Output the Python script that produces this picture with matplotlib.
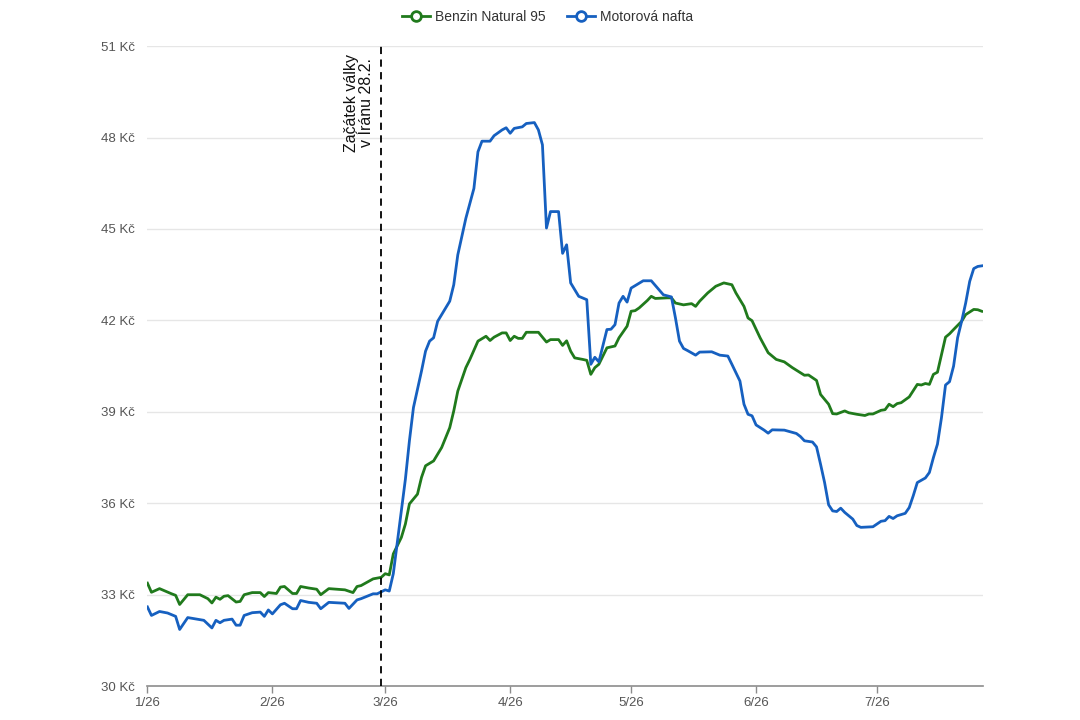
import matplotlib
matplotlib.use("Agg")
import matplotlib.pyplot as plt
import matplotlib.dates as mdates
from matplotlib.lines import Line2D
import pandas as pd

plt.rcParams['font.family'] = ['Liberation Sans', 'DejaVu Sans']

YEAR = "2026"

benzin_dates = [
    "01-01", "01-02", "01-04", "01-07", "01-08", "01-09", "01-11", "01-12", "01-14", "01-16",
    "01-17", "01-18", "01-19", "01-20", "01-21", "01-23", "01-24", "01-25", "01-27", "01-29",
    "01-30", "01-31", "02-02", "02-03", "02-04", "02-06", "02-07", "02-08", "02-10", "02-12",
    "02-13", "02-15", "02-19", "02-21", "02-22", "02-23", "02-26", "02-28", "03-01", "03-02",
    "03-03", "03-05", "03-06", "03-07", "03-09", "03-10", "03-11", "03-13", "03-15", "03-17",
    "03-18", "03-19", "03-21", "03-22", "03-24", "03-26", "03-27", "03-28", "03-30", "03-31",
    "04-01", "04-02", "04-03", "04-04", "04-05", "04-08", "04-10", "04-11", "04-13", "04-14",
    "04-15", "04-16", "04-17", "04-19", "04-20", "04-21", "04-22", "04-23", "04-25", "04-27",
    "04-28", "04-30", "05-01", "05-02", "05-03", "05-05", "05-06", "05-07", "05-10", "05-11",
    "05-12", "05-14", "05-16", "05-17", "05-18", "05-20", "05-22", "05-24", "05-26", "05-27",
    "05-29", "05-30", "05-31", "06-02", "06-04", "06-06", "06-08", "06-10", "06-13", "06-14",
    "06-16", "06-17", "06-19", "06-20", "06-21", "06-23", "06-24", "06-26", "06-28", "06-29",
    "06-30", "07-02", "07-03", "07-04", "07-05", "07-06", "07-07", "07-09", "07-11", "07-12",
    "07-13", "07-14", "07-15", "07-16", "07-18", "07-19", "07-20", "07-22", "07-23", "07-25",
    "07-26", "07-27",
]
benzin_values = [
    33.38, 33.08, 33.20, 33.03, 32.98, 32.68, 33.00, 33.00, 33.00, 32.87,
    32.73, 32.92, 32.85, 32.95, 32.97, 32.76, 32.78, 33.00, 33.07, 33.07,
    32.94, 33.07, 33.04, 33.25, 33.27, 33.04, 33.04, 33.27, 33.22, 33.18,
    33.00, 33.20, 33.16, 33.07, 33.27, 33.30, 33.52, 33.57, 33.69, 33.65,
    34.34, 34.88, 35.32, 35.98, 36.30, 36.85, 37.23, 37.39, 37.83, 38.48,
    39.03, 39.68, 40.45, 40.72, 41.32, 41.48, 41.34, 41.45, 41.59, 41.59,
    41.34, 41.48, 41.41, 41.41, 41.61, 41.61, 41.29, 41.37, 41.37, 41.18,
    41.33, 40.99, 40.77, 40.72, 40.69, 40.23, 40.45, 40.56, 41.10, 41.16,
    41.43, 41.81, 42.30, 42.32, 42.41, 42.65, 42.79, 42.72, 42.74, 42.74,
    42.57, 42.51, 42.55, 42.46, 42.63, 42.90, 43.12, 43.23, 43.17, 42.90,
    42.46, 42.08, 41.99, 41.43, 40.94, 40.72, 40.64, 40.45, 40.20, 40.21,
    40.03, 39.57, 39.25, 38.94, 38.93, 39.03, 38.97, 38.92, 38.88, 38.93,
    38.93, 39.05, 39.07, 39.25, 39.17, 39.27, 39.30, 39.49, 39.90, 39.88,
    39.93, 39.90, 40.23, 40.30, 41.45, 41.56, 41.70, 41.97, 42.19, 42.36,
    42.35, 42.30,
]

nafta_dates = [
    "01-01", "01-02", "01-04", "01-06", "01-08", "01-09", "01-11", "01-14", "01-15", "01-17",
    "01-18", "01-19", "01-20", "01-22", "01-23", "01-24", "01-25", "01-27", "01-29", "01-30",
    "01-31", "02-01", "02-03", "02-04", "02-06", "02-07", "02-08", "02-10", "02-12", "02-13",
    "02-15", "02-19", "02-20", "02-22", "02-23", "02-26", "02-27", "03-01", "03-02", "03-03",
    "03-05", "03-06", "03-07", "03-08", "03-10", "03-11", "03-12", "03-13", "03-14", "03-17",
    "03-18", "03-19", "03-21", "03-22", "03-23", "03-24", "03-25", "03-27", "03-28", "03-30",
    "03-31", "04-01", "04-02", "04-04", "04-05", "04-07", "04-08", "04-09", "04-10", "04-11",
    "04-13", "04-14", "04-15", "04-16", "04-18", "04-20", "04-21", "04-22", "04-23", "04-25",
    "04-26", "04-27", "04-28", "04-29", "04-30", "05-01", "05-02", "05-04", "05-06", "05-09",
    "05-11", "05-12", "05-13", "05-14", "05-15", "05-17", "05-18", "05-21", "05-23", "05-25",
    "05-26", "05-28", "05-29", "05-30", "05-31", "06-01", "06-03", "06-04", "06-05", "06-08",
    "06-11", "06-12", "06-13", "06-15", "06-16", "06-17", "06-18", "06-19", "06-20", "06-21",
    "06-22", "06-23", "06-25", "06-26", "06-27", "06-30", "07-02", "07-03", "07-04", "07-05",
    "07-06", "07-08", "07-09", "07-10", "07-11", "07-13", "07-14", "07-15", "07-16", "07-17",
    "07-18", "07-19", "07-20", "07-21", "07-22", "07-23", "07-24", "07-25", "07-26", "07-27",
]
nafta_values = [
    32.60, 32.32, 32.45, 32.40, 32.29, 31.86, 32.25, 32.18, 32.16, 31.91,
    32.16, 32.08, 32.16, 32.20, 32.00, 32.00, 32.32, 32.41, 32.43, 32.29,
    32.50, 32.37, 32.67, 32.72, 32.54, 32.54, 32.81, 32.75, 32.72, 32.54,
    32.75, 32.72, 32.55, 32.83, 32.87, 33.03, 33.03, 33.16, 33.12, 33.69,
    35.76, 36.79, 38.05, 39.14, 40.34, 40.99, 41.32, 41.43, 41.97, 42.63,
    43.17, 44.15, 45.35, 45.84, 46.33, 47.53, 47.88, 47.88, 48.06, 48.25,
    48.32, 48.14, 48.30, 48.35, 48.46, 48.49, 48.25, 47.76, 45.03, 45.57,
    45.57, 44.20, 44.48, 43.23, 42.79, 42.68, 40.56, 40.79, 40.64, 41.70,
    41.71, 41.86, 42.57, 42.79, 42.60, 43.06, 43.14, 43.30, 43.30, 42.84,
    42.77, 42.08, 41.32, 41.08, 41.01, 40.86, 40.96, 40.97, 40.86, 40.83,
    40.56, 40.01, 39.25, 38.92, 38.87, 38.57, 38.40, 38.30, 38.41, 38.40,
    38.29, 38.19, 38.05, 38.01, 37.85, 37.28, 36.68, 35.95, 35.75, 35.73,
    35.84, 35.70, 35.48, 35.27, 35.21, 35.23, 35.41, 35.43, 35.57, 35.50,
    35.59, 35.67, 35.86, 36.25, 36.68, 36.83, 37.01, 37.50, 37.94, 38.81,
    39.88, 39.99, 40.50, 41.43, 41.97, 42.57, 43.28, 43.70, 43.77, 43.79,
]

series_names = ["Benzin Natural 95", "Motorová nafta"]
series_colors = ["#207a1c", "#1660c0"]

y_ticks = [30, 33, 36, 39, 42, 45, 48, 51]
y_tick_labels = [f"{v} Kč" for v in y_ticks]
x_tick_dates = ["01-01", "02-01", "03-01", "04-01", "05-01", "06-01", "07-01"]
x_tick_labels = ["1/26", "2/26", "3/26", "4/26", "5/26", "6/26", "7/26"]
event_date = "02-28"
event_label = "Začátek války\nv Íránu 28.2."


def to_dt(lst):
    return pd.to_datetime([f"{YEAR}-{d}" for d in lst])


fig = plt.figure(figsize=(10.8, 7.2), dpi=100)
ax = fig.add_axes([0.1365, 0.047, 0.7735, 0.889])

ax.plot(to_dt(benzin_dates), benzin_values, color=series_colors[0], lw=2.0,
        solid_joinstyle='round', zorder=3)
ax.plot(to_dt(nafta_dates), nafta_values, color=series_colors[1], lw=2.0,
        solid_joinstyle='round', zorder=3)

ax.set_ylim(30, 51)
ax.set_xlim(to_dt(["01-01"])[0], to_dt(["07-27"])[0] + pd.Timedelta(hours=6))

ax.set_yticks(y_ticks)
ax.set_yticklabels(y_tick_labels)
ax.set_xticks(to_dt(x_tick_dates))
ax.set_xticklabels(x_tick_labels)

for v in y_ticks[1:]:
    ax.axhline(v, color="#e6e6e6", lw=1.0, zorder=1)

for s in ["top", "right", "left"]:
    ax.spines[s].set_visible(False)
ax.spines["bottom"].set_color("#8c8c8c")
ax.spines["bottom"].set_linewidth(1.2)
ax.tick_params(axis="y", length=0, pad=9, labelsize=9.5, labelcolor="#555555")
ax.tick_params(axis="x", length=5, width=1, color="#8c8c8c", pad=3,
               labelsize=9.5, labelcolor="#555555")

ev = to_dt([event_date])[0]
ax.plot([ev, ev], [30, 51], color="black", lw=1.3, ls=(0, (4, 3)), zorder=4,
        clip_on=False)
ax.annotate(event_label, xy=(ev, 50.75), xytext=(-5, 0), textcoords="offset points",
            rotation=90, ha="right", va="top", multialignment="center",
            fontsize=11.5, color="#111111", linespacing=1.05)

handles = [
    Line2D([0], [0], color=series_colors[i], lw=2, marker="o", markersize=7,
           markerfacecolor="white", markeredgewidth=2)
    for i in range(2)
]
fig.legend(handles, series_names, loc="center", bbox_to_anchor=(0.507, 0.977),
           ncol=2, frameon=False, fontsize=10, handlelength=2.0, handletextpad=0.4,
           columnspacing=1.5, labelcolor="#333333")

fig.savefig("out.png", dpi=100)
